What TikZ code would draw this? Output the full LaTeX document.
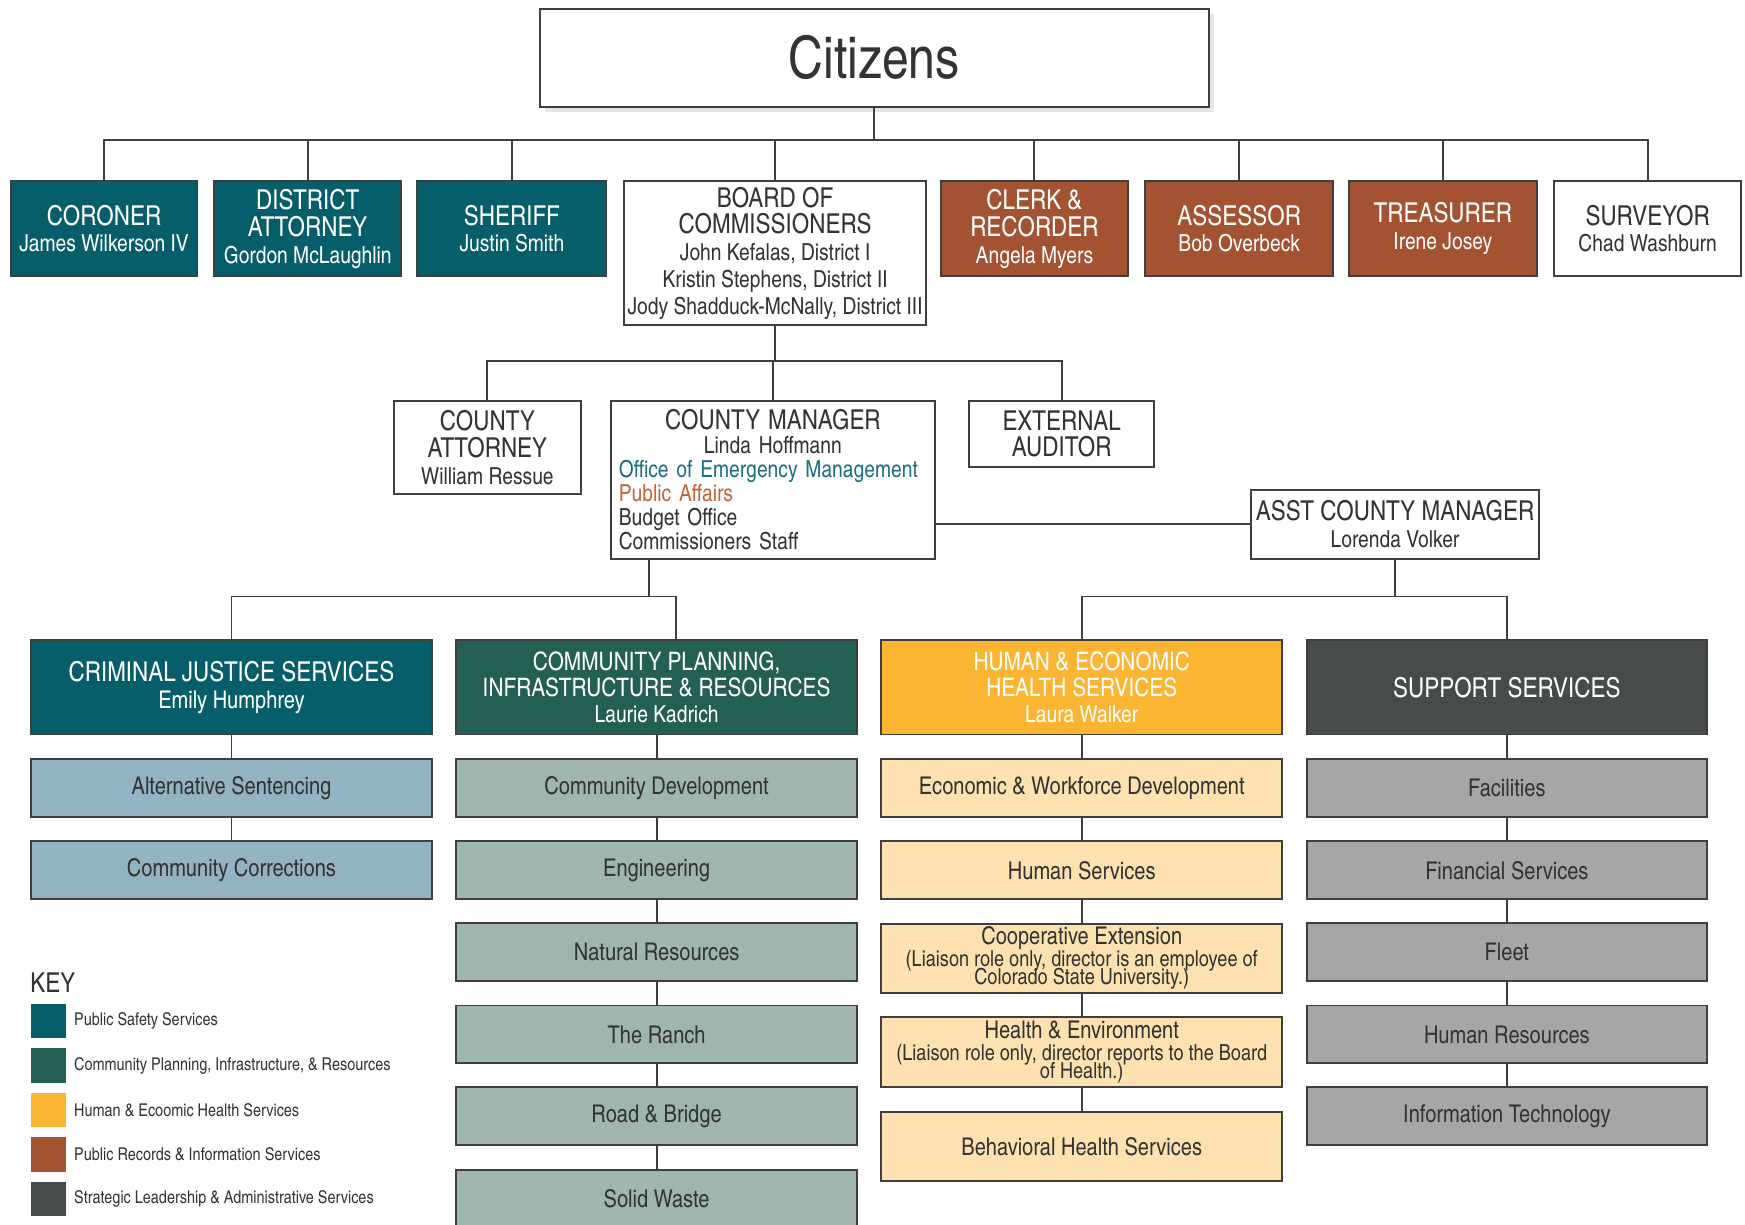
\documentclass[tikz,border=0pt]{standalone}
\usepackage{fontspec}
\setmainfont{texgyreheroscn-regular.otf}[BoldFont=texgyreheroscn-bold.otf]
\usetikzlibrary{positioning,shadows}
\setlength\parindent{0pt}

\definecolor{safety}{HTML}{065E6A}
\definecolor{planning}{HTML}{245F53}
\definecolor{health}{HTML}{FBB532}
\definecolor{records}{HTML}{A35332}
\definecolor{admin}{HTML}{474B4C}
\definecolor{safetylt}{HTML}{93B2C2}
\definecolor{planninglt}{HTML}{9EB5B0}
\definecolor{healthlt}{HTML}{FDE1B0}
\definecolor{adminlt}{HTML}{A6A6A6}
\definecolor{edge}{HTML}{3F3F3F}
\definecolor{ink}{HTML}{333333}
\definecolor{oem}{HTML}{1A6F80}
\definecolor{pubaff}{HTML}{C0653B}

\newcommand{\nm}{\fontsize{12}{13.7}\selectfont}
\newcommand{\note}{\fontsize{11.3}{9.6}\selectfont}
\newcommand{\tightlines}{\setlength{\lineskiplimit}{-20pt}}

\begin{document}
\begin{tikzpicture}[x=0.02cm,y=-0.02cm,
  box/.style={draw=edge,line width=1pt,inner sep=0pt,align=center,text=ink,font=\fontsize{14}{13.7}\selectfont},
  topbox/.style={box,minimum width=3.36cm,minimum height=1.7cm},
  divbox/.style={box,minimum width=7.2cm,minimum height=1.7cm,text=white},
  subbox/.style={box,minimum width=7.2cm,minimum height=1.04cm,font=\fontsize{12.5}{13}\selectfont},
  notebox/.style={subbox,font=\fontsize{12.5}{9.6}\selectfont\tightlines},
  keybox/.style={minimum width=0.62cm,minimum height=0.62cm,inner sep=0pt},
  keytext/.style={inner sep=0pt,text=ink,font=\fontsize{9}{9}\selectfont},
  link/.style={draw=edge,line width=1pt}]

\useasboundingbox (0,0) rectangle (1568,1100);

\node[box,fill=white,minimum width=12.02cm,minimum height=1.76cm,font=\fontsize{30}{30}\selectfont,
  drop shadow={shadow xshift=0.1cm,shadow yshift=-0.1cm,opacity=0.2}] (citizens) at (785.5,52) {Citizens};

\node[topbox,fill=safety,text=white] (coroner) at (93.5,205.5) {CORONER\\{\nm James Wilkerson IV}};
\node[topbox,fill=safety,text=white] (da) at (276.5,205.5) {DISTRICT\\ATTORNEY\\{\nm Gordon McLaughlin}};
\node[topbox,fill=safety,text=white,minimum width=3.4cm] (sheriff) at (460,205.5) {SHERIFF\\{\nm Justin Smith}};
\node[box,minimum width=5.42cm,minimum height=2.58cm] (board) at (696.5,227.5) {BOARD OF\\COMMISSIONERS\\{\nm John Kefalas, District I}\\{\nm Kristin Stephens, District II}\\{\nm Jody Shadduck-McNally, District III}};
\node[topbox,fill=records,text=white] (clerk) at (929.5,205.5) {CLERK \&\\RECORDER\\{\nm Angela Myers}};
\node[topbox,fill=records,text=white,minimum width=3.38cm] (assessor) at (1113.5,205.5) {ASSESSOR\\{\nm Bob Overbeck}};
\node[topbox,fill=records,text=white,minimum width=3.38cm] (treasurer) at (1296.5,205.5) {TREASURER\\{\nm Irene Josey}};
\node[topbox] (surveyor) at (1480.5,205.5) {SURVEYOR\\{\nm Chad Washburn}};

\node[box,minimum width=3.36cm,minimum height=1.68cm] (cattorney) at (438,402) {COUNTY\\ATTORNEY\\{\nm William Ressue}};
\node[box,minimum height=2.84cm,text width=5.54cm,inner xsep=0.14cm,align=left,font=\fontsize{12}{12.3}\selectfont] (cmanager) at (694.5,431) {\makebox[\hsize]{\fontsize{14}{12.3}\selectfont COUNTY MANAGER}\\
  \makebox[\hsize]{Linda Hoffmann}\\
  \textcolor{oem}{Office of Emergency Management}\\
  \textcolor{pubaff}{Public Affairs}\\
  Budget Office\\
  Commissioners Staff};
\node[box,minimum width=3.32cm,minimum height=1.2cm] (eauditor) at (954,390) {EXTERNAL\\AUDITOR};
\node[box,minimum width=5.18cm,minimum height=1.24cm] (acm) at (1253.5,471) {ASST COUNTY MANAGER\\{\nm Lorenda Volker}};

\node[divbox,fill=safety] (cjs) at (208,617.5) {CRIMINAL JUSTICE SERVICES\\{\fontsize{12.5}{15}\selectfont Emily Humphrey}};
\node[divbox,fill=planning,font=\fontsize{13}{13.5}\selectfont] (cpir) at (590,617.5) {COMMUNITY PLANNING,\\INFRASTRUCTURE \& RESOURCES\\{\fontsize{12}{13.5}\selectfont Laurie Kadrich}};
\node[divbox,fill=health,font=\fontsize{13}{13.5}\selectfont] (hehs) at (972,617.5) {HUMAN \& ECONOMIC\\HEALTH SERVICES\\{\fontsize{12}{13.5}\selectfont Laura Walker}};
\node[divbox,fill=admin] (support) at (1354,617.5) {SUPPORT SERVICES};

\node[subbox,fill=safetylt] (altsent) at (208,708) {Alternative Sentencing};
\node[subbox,fill=safetylt] (comcorr) at (208,782) {Community Corrections};

\node[subbox,fill=planninglt] (comdev) at (590,708) {Community Development};
\node[subbox,fill=planninglt] (engineering) at (590,782) {Engineering};
\node[subbox,fill=planninglt] (natres) at (590,855.5) {Natural Resources};
\node[subbox,fill=planninglt] (ranch) at (590,929.5) {The Ranch};
\node[subbox,fill=planninglt] (roadbridge) at (590,1003) {Road \& Bridge};
\node[subbox,fill=planninglt] (solidwaste) at (590,1077) {Solid Waste};

\node[subbox,fill=healthlt] (ewd) at (972,708) {Economic \& Workforce Development};
\node[subbox,fill=healthlt] (humserv) at (972,782) {Human Services};
\node[notebox,fill=healthlt,minimum height=1.24cm] (coopext) at (972,861) {Cooperative Extension\\[1.4pt]{\note (Liaison role only, director is an employee of}\\{\note Colorado State University.)}};
\node[notebox,fill=healthlt,minimum height=1.26cm] (healthenv) at (972,945.5) {Health \& Environment\\[1.4pt]{\note (Liaison role only, director reports to the Board}\\{\note of Health.)}};
\node[subbox,fill=healthlt,minimum height=1.24cm] (behavioral) at (972,1030) {Behavioral Health Services};

\node[subbox,fill=adminlt] (facilities) at (1354,708) {Facilities};
\node[subbox,fill=adminlt] (financial) at (1354,782) {Financial Services};
\node[subbox,fill=adminlt] (fleet) at (1354,855.5) {Fleet};
\node[subbox,fill=adminlt] (hr) at (1354,929.5) {Human Resources};
\node[subbox,fill=adminlt] (it) at (1354,1003) {Information Technology};

\coordinate (topbus) at (786,126);
\coordinate (midbus) at (696,324);
\coordinate (lowbus) at (0,536);
\coordinate (cpirtop) at ([xshift=0.34cm]cpir.north);
\coordinate (cmfoot) at ([xshift=0.7cm]cmanager.south west);

\draw[link] (citizens.south) -- (citizens.south |- topbus);
\draw[link] (coroner.north) |- (topbus) -| (surveyor.north);
\draw[link] (da.north) -- (da.north |- topbus);
\draw[link] (sheriff.north) -- (sheriff.north |- topbus);
\draw[link] (board.north) -- (board.north |- topbus);
\draw[link] (clerk.north) -- (clerk.north |- topbus);
\draw[link] (assessor.north) -- (assessor.north |- topbus);
\draw[link] (treasurer.north) -- (treasurer.north |- topbus);

\draw[link] (board.south) -- (board.south |- midbus);
\draw[link] (cattorney.north) |- (midbus) -| (eauditor.north);
\draw[link] (cmanager.north) -- (cmanager.north |- midbus);
\draw[link] (acm.west) -- (acm.west -| cmanager.east);

\draw[link] (cmfoot) -- (cmfoot |- lowbus);
\draw[link] (cjs.north) |- (cpirtop |- lowbus) -- (cpirtop);
\draw[link] (acm.south) -- (acm.south |- lowbus);
\draw[link] (hehs.north) |- (support.north |- lowbus) -- (support.north);

\draw[link] (cjs) -- (altsent) -- (comcorr);
\draw[link] (cpir) -- (comdev) -- (engineering) -- (natres) -- (ranch) -- (roadbridge) -- (solidwaste);
\draw[link] (hehs) -- (ewd) -- (humserv) -- (coopext) -- (healthenv) -- (behavioral);
\draw[link] (support) -- (facilities) -- (financial) -- (fleet) -- (hr) -- (it);

\node[anchor=west,inner sep=0pt,text=ink,font=\fontsize{14}{14}\selectfont] (keytitle) at (27,883) {KEY};
\node[keybox,fill=safety] (ksafety) at (43.5,917.5) {};
\node[keybox,fill=planning] (kplanning) at (43.5,957.5) {};
\node[keybox,fill=health] (khealth) at (43.5,997.5) {};
\node[keybox,fill=records] (krecords) at (43.5,1037.5) {};
\node[keybox,fill=admin] (kadmin) at (43.5,1077.5) {};
\node[keytext,right=0.14cm of ksafety] (lsafety) {Public Safety Services};
\node[keytext,right=0.14cm of kplanning] (lplanning) {Community Planning, Infrastructure, \& Resources};
\node[keytext,right=0.14cm of khealth] (lhealth) {Human \& Ecoomic Health Services};
\node[keytext,right=0.14cm of krecords] (lrecords) {Public Records \& Information Services};
\node[keytext,right=0.14cm of kadmin] (ladmin) {Strategic Leadership \& Administrative Services};

\end{tikzpicture}
\end{document}
